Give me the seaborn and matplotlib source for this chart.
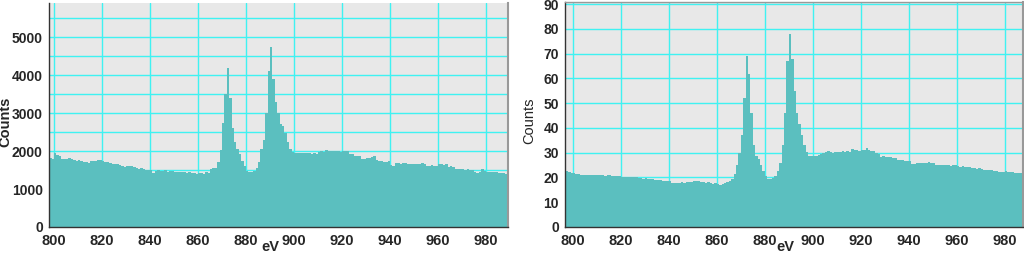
import numpy as np
import pandas as pd
import matplotlib
matplotlib.use("Agg")
import matplotlib.pyplot as plt
from matplotlib.ticker import MultipleLocator
import seaborn as sns

# ---- data (1 eV bins, left edges) ----
energy = np.arange(796, 990)

counts_left = [
    1900, 1880, 1820, 1800, 1940, 1900, 1870, 1800, 1790, 1780,   # 796-805
    1810, 1800, 1760, 1750, 1770, 1740, 1720, 1700, 1680, 1740,   # 806-815
    1750, 1730, 1760, 1770, 1740, 1700, 1710, 1690, 1670, 1660,   # 816-825
    1650, 1620, 1600, 1590, 1600, 1610, 1600, 1580, 1560, 1540,   # 826-835
    1550, 1530, 1500, 1510, 1490, 1420, 1480, 1490, 1470, 1480,   # 836-845
    1490, 1460, 1470, 1480, 1460, 1450, 1460, 1440, 1450, 1430,   # 846-855
    1440, 1420, 1430, 1400, 1420, 1420, 1400, 1440, 1430, 1520,   # 856-865
    1560, 1550, 1700, 2030, 2740, 3500, 4180, 3400, 2600, 2250,   # 866-875
    2050, 1920, 1750, 1600, 1470, 1460, 1460, 1470, 1560, 1700,   # 876-885
    2050, 2300, 3000, 4100, 4750, 3900, 3300, 3000, 2720, 2650,   # 886-895
    2480, 2250, 2050, 1980, 1960, 1950, 1960, 1950, 1960, 1940,   # 896-905
    1950, 1930, 1940, 1930, 1980, 1990, 1980, 2040, 2000, 2010,   # 906-915
    2000, 1990, 1990, 1980, 1990, 1990, 2000, 1930, 1920, 1880,   # 916-925
    1870, 1860, 1790, 1780, 1810, 1820, 1850, 1860, 1760, 1750,   # 926-935
    1740, 1720, 1720, 1730, 1620, 1600, 1680, 1690, 1670, 1680,   # 936-945
    1690, 1660, 1650, 1670, 1660, 1650, 1660, 1680, 1670, 1610,   # 946-955
    1600, 1620, 1610, 1600, 1660, 1650, 1640, 1650, 1590, 1600,   # 956-965
    1580, 1530, 1520, 1520, 1530, 1510, 1520, 1510, 1500, 1440,   # 966-975
    1430, 1440, 1520, 1470, 1460, 1450, 1460, 1450, 1440, 1420,   # 976-985
    1410, 1420, 1400, 1410,                                       # 986-989
]

counts_right = [
    23.0, 22.8, 22.3, 22.0, 21.8, 21.5, 21.3, 21.0, 20.9, 21.1,   # 796-805
    21.0, 21.2, 21.0, 21.1, 21.0, 21.0, 20.9, 20.8, 20.9, 21.0,   # 806-815
    20.8, 20.7, 20.8, 20.6, 20.3, 20.4, 20.2, 20.3, 20.1, 20.2,   # 816-825
    20.0, 19.7, 19.6, 19.5, 19.6, 19.3, 19.2, 19.3, 19.1, 19.0,   # 826-835
    18.9, 18.7, 18.6, 18.5, 18.4, 17.9, 17.8, 17.9, 17.7, 18.0,   # 836-845
    17.9, 18.1, 18.0, 18.3, 18.5, 18.6, 18.7, 18.3, 18.0, 17.9,   # 846-855
    18.0, 17.6, 17.5, 17.6, 17.2, 17.0, 17.4, 17.6, 18.0, 18.6,   # 856-865
    19.5, 21.5, 25.0, 30.0, 37.0, 52.0, 69.0, 62.0, 46.0, 33.0,   # 866-875
    28.5, 27.5, 25.0, 22.5, 20.5, 19.3, 19.4, 19.8, 20.8, 22.5,   # 876-885
    26.0, 33.0, 46.0, 67.0, 78.0, 68.0, 55.0, 46.0, 41.5, 37.0,   # 886-895
    33.0, 30.5, 28.8, 28.5, 28.5, 28.6, 29.0, 29.3, 29.8, 30.5,   # 896-905
    30.9, 30.2, 30.0, 30.3, 30.5, 30.4, 30.6, 30.5, 30.7, 30.5,   # 906-915
    31.4, 31.0, 31.1, 30.9, 31.0, 31.1, 31.9, 31.0, 30.9, 30.6,   # 916-925
    29.8, 29.6, 28.4, 28.5, 28.2, 28.3, 28.1, 27.8, 27.7, 27.1,   # 926-935
    27.2, 27.0, 26.6, 26.7, 26.5, 25.5, 25.6, 25.9, 26.0, 25.8,   # 936-945
    26.0, 25.9, 26.1, 25.8, 25.7, 25.0, 25.2, 25.0, 24.9, 25.1,   # 946-955
    25.0, 24.8, 25.0, 24.9, 24.6, 24.4, 24.5, 24.3, 24.4, 24.1,   # 956-965
    23.7, 23.8, 23.6, 23.7, 23.5, 23.0, 23.1, 22.9, 23.0, 22.8,   # 966-975
    22.6, 22.3, 22.4, 22.2, 22.5, 22.3, 22.2, 22.3, 22.0, 21.7,   # 976-985
    21.8, 21.6, 21.5, 21.6,                                       # 986-989
]

x_ticks = [800, 820, 840, 860, 880, 900, 920, 940, 960, 980]

# ---- style ----
sns.set_style("white")
plt.rcParams['font.family'] = ['Liberation Sans Narrow', 'Liberation Sans', 'DejaVu Sans']
plt.rcParams['font.weight'] = 'bold'

FILL = "#5bbfbf"
BG = "#e8e8e8"
GRID = "#3ff2f2"

fig = plt.figure(figsize=(10.24, 2.54), dpi=100)
ax1 = fig.add_axes([49/1024, 1 - 227/254, 459/1024, 224/254])
ax2 = fig.add_axes([565/1024, 1 - 227/254, 458/1024, 225/254])

centers = energy + 0.5
nbins = len(energy)
brange = (float(energy[0]), float(energy[-1] + 1))


def draw(ax, vals, ylim, ymajor, yminor, xlim, label_weight, ylab_x):
    df = pd.DataFrame({"eV": centers, "Counts": np.asarray(vals, dtype=float)})
    sns.histplot(data=df, x="eV", weights="Counts", bins=nbins, binrange=brange,
                 element="step", fill=True, color=FILL, alpha=1.0, linewidth=0, ax=ax)
    ax.set_facecolor(BG)
    ax.set_xlim(*xlim)
    ax.set_ylim(*ylim)
    ax.set_xticks(x_ticks)
    ax.yaxis.set_major_locator(MultipleLocator(ymajor))
    if yminor:
        ax.yaxis.set_minor_locator(MultipleLocator(yminor))
    ax.set_axisbelow(True)
    ax.grid(True, which="both", color=GRID, linewidth=1.0)
    ax.tick_params(axis="x", which="major", direction="out", length=3, width=0.8,
                   color="#222222", labelsize=10.5, pad=2)
    ax.tick_params(axis="y", which="major", direction="out", length=3, width=0.8,
                   color="#222222", labelsize=10, pad=1.5)
    ax.tick_params(axis="y", which="minor", direction="out", length=2, width=0.8, color="#777777")
    for t in ax.get_xticklabels() + ax.get_yticklabels():
        t.set_fontweight("bold")
    ax.set_ylabel("Counts", fontsize=10.5, fontweight=label_weight)
    ax.yaxis.set_label_coords(ylab_x, 0.47)
    ax.set_xlabel("eV", fontsize=10.5, fontweight="bold")
    ax.xaxis.set_label_coords(0.482, -0.058)
    for s in ["left", "bottom"]:
        ax.spines[s].set_color("#333333")
        ax.spines[s].set_linewidth(1.0)
    ax.spines["right"].set_color("#999999")
    ax.spines["right"].set_linewidth(1.5)
    ax.spines["top"].set_visible(False)


draw(ax1, counts_left, (0, 5900), 1000, 500, (797.9, 989.2), "bold", -0.079)
draw(ax2, counts_right, (0, 90.9), 10, None, (796.7, 987.6), "normal", -0.062)
ax2.spines["top"].set_visible(True)
ax2.spines["top"].set_color("#999999")
ax2.spines["top"].set_linewidth(1.0)

fig.savefig("out.png", dpi=100, facecolor="white")
